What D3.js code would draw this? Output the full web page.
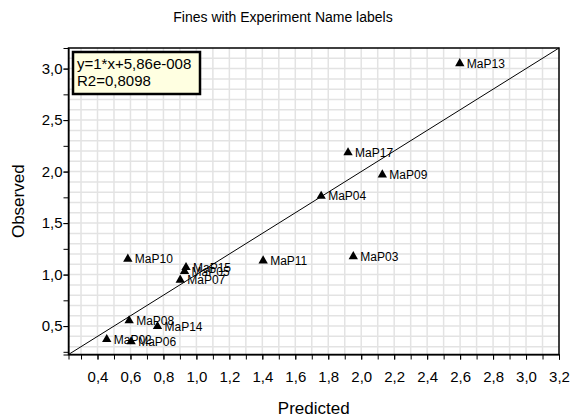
<!DOCTYPE html>
<html>
<head>
<meta charset="utf-8">
<script src="https://cdn.jsdelivr.net/npm/d3@7"></script>
<style>
  body { margin: 0; background: #fff; }
  svg { display: block; font-family: "Liberation Sans", Arial, sans-serif; }
  .grid line { stroke: #e3e3e3; stroke-width: 1.5; }
  .axis path, .axis line { stroke: #000; }
  .axis text { font-size: 15px; fill: #000; }
</style>
</head>
<body>
<svg width="572" height="418"></svg>
<script>
  // experiment names and predicted / observed values
  const names = ['MaP02', 'MaP03', 'MaP04', 'MaP05', 'MaP06', 'MaP07', 'MaP08',
                 'MaP09', 'MaP10', 'MaP11', 'MaP13', 'MaP14', 'MaP15', 'MaP17'];
  const predicted = [0.456, 1.952, 1.757, 0.928, 0.604, 0.902, 0.592,
                     2.128, 0.584, 1.405, 2.598, 0.764, 0.937, 1.92];
  const observed  = [0.371, 1.176, 1.762, 1.031, 0.349, 0.948, 0.553,
                     1.969, 1.151, 1.135, 3.05, 0.497, 1.07, 2.185];

  const xTicks = [0.4, 0.6, 0.8, 1.0, 1.2, 1.4, 1.6, 1.8, 2.0, 2.2, 2.4, 2.6, 2.8, 3.0, 3.2];
  const yTicks = [0.5, 1.0, 1.5, 2.0, 2.5, 3.0];
  const axisMin = 0.224, axisMax = 3.2;
  const fit = { slope: 1, intercept: 5.86e-8, label: 'y=1*x+5,86e-008', r2: 'R2=0,8098' };

  const svg = d3.select('svg');
  const m = { left: 68.5, right: 559, top: 48, bottom: 354.5 };

  const x = d3.scaleLinear().domain([axisMin, axisMax]).range([m.left, m.right]);
  const y = d3.scaleLinear().domain([axisMin, axisMax]).range([m.bottom, m.top]);
  const fmt = d => d3.format('.1f')(d).replace('.', ',');

  const xMinor = d3.range(0.3, 3.21, 0.1);
  const yMinor = d3.range(0.25, 3.01, 0.25);
  const gridX = d3.range(0.3, 3.15, 0.1);
  const gridY = d3.range(0.3, 3.15, 0.1);

  // grid
  const grid = svg.append('g').attr('class', 'grid');
  grid.selectAll('.gx').data(gridX).enter().append('line')
    .attr('x1', d => x(d)).attr('x2', d => x(d))
    .attr('y1', m.top).attr('y2', m.bottom);
  grid.selectAll('.gy').data(gridY).enter().append('line')
    .attr('y1', d => y(d)).attr('y2', d => y(d))
    .attr('x1', m.left).attr('x2', m.right);

  // axes: minor ticks then labelled ticks
  svg.append('g').attr('class', 'axis')
    .attr('transform', `translate(0,${m.bottom})`)
    .call(d3.axisBottom(x).tickValues(xMinor).tickSize(5).tickFormat(''));
  svg.append('g').attr('class', 'axis')
    .attr('transform', `translate(0,${m.bottom})`)
    .call(d3.axisBottom(x).tickValues(xTicks).tickSize(5).tickPadding(12).tickFormat(fmt))
    .call(g => g.select('.domain').remove());

  svg.append('g').attr('class', 'axis')
    .attr('transform', `translate(${m.left},0)`)
    .call(d3.axisLeft(y).tickValues(yMinor).tickSize(5).tickFormat(''));
  svg.append('g').attr('class', 'axis')
    .attr('transform', `translate(${m.left},0)`)
    .call(d3.axisLeft(y).tickValues(yTicks).tickSize(5).tickPadding(1).tickFormat(fmt))
    .call(g => g.select('.domain').remove());

  // frame
  svg.append('rect')
    .attr('x', m.left).attr('y', m.top)
    .attr('width', m.right - m.left).attr('height', m.bottom - m.top)
    .attr('fill', 'none').attr('stroke', '#000').attr('stroke-width', 1.5);

  // regression line
  svg.append('line')
    .attr('x1', x(axisMin)).attr('y1', y(fit.slope * axisMin + fit.intercept))
    .attr('x2', x(axisMax)).attr('y2', y(fit.slope * axisMax + fit.intercept))
    .attr('stroke', '#000').attr('stroke-width', 1);

  // points
  const pts = svg.append('g').selectAll('g').data(names).enter().append('g')
    .attr('transform', (d, i) => `translate(${x(predicted[i])},${y(observed[i])})`);
  pts.append('path')
    .attr('d', d3.symbol().type(d3.symbolTriangle).size(38))
    .attr('fill', '#000');
  pts.append('text')
    .attr('x', 7).attr('dy', 4.3)
    .attr('font-size', 12).attr('fill', '#000')
    .text(d => d);

  // fit legend
  svg.append('rect')
    .attr('x', 73).attr('y', 52).attr('width', 127).attr('height', 42)
    .attr('fill', '#ffffe1').attr('stroke', '#000').attr('stroke-width', 2.5);
  svg.append('text').attr('x', 77).attr('y', 69).attr('font-size', 15).text(fit.label);
  svg.append('text').attr('x', 77).attr('y', 86).attr('font-size', 15).text(fit.r2);

  // titles
  svg.append('text')
    .attr('x', 283).attr('y', 22).attr('text-anchor', 'middle')
    .attr('font-size', 14).text('Fines with Experiment Name labels');
  svg.append('text')
    .attr('x', (m.left + m.right) / 2).attr('y', 414).attr('text-anchor', 'middle')
    .attr('font-size', 17).text('Predicted');
  svg.append('text')
    .attr('transform', `translate(24,${(m.top + m.bottom) / 2}) rotate(-90)`)
    .attr('text-anchor', 'middle')
    .attr('font-size', 17).text('Observed');
</script>
</body>
</html>
